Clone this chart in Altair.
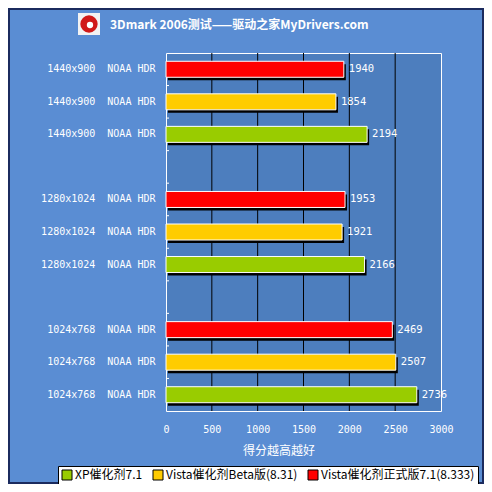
import json
import altair as alt
import pandas as pd

resolutions = ["1440x900", "1280x1024", "1024x768"]
mode = "NOAA HDR"
series_names = ["XP催化剂7.1", "Vista催化剂Beta版(8.31)", "Vista催化剂正式版7.1(8.333)"]
series_colors = ["#99CC00", "#FFCC00", "#FF0000"]
xp_scores = [2194, 2166, 2736]
beta_scores = [1854, 1921, 2507]
final_scores = [1940, 1953, 2469]
x_ticks = [0, 500, 1000, 1500, 2000, 2500, 3000]
grid_vals = [500, 1000, 1500, 2000, 2500]
title_text = "3Dmark 2006测试——驱动之家MyDrivers.com"
x_title = "得分越高越好"

order = [(series_names[2], final_scores), (series_names[1], beta_scores), (series_names[0], xp_scores)]
rows, labels = [], []
for gi, res in enumerate(resolutions):
    for si, (name, vals) in enumerate(order):
        rows.append({"slot": gi * 4 + si, "series": name, "score": vals[gi]})
        labels.append(f"{res}\u00a0\u00a0{mode}")
    if gi < len(resolutions) - 1:
        labels.append("")
df = pd.DataFrame(rows)
n_slots = len(labels)

W, H = 275, 358
PL, PT, PR, PB = 158, 45, 43, 73
STEP = H / n_slots

mono = "DejaVu Sans Mono"
cjk = "Noto Sans CJK SC"

y_scale = alt.Scale(domain=list(range(n_slots)), paddingInner=0, paddingOuter=0)
y_enc = alt.Y(
    "slot:O",
    scale=y_scale,
    axis=alt.Axis(title=None, labelExpr=json.dumps(labels) + "[datum.value]",
                  labelColor="white", labelFont=mono, labelFontSize=10,
                  ticks=False, domain=False, labelPadding=11),
)
x_enc = alt.X(
    "score:Q",
    scale=alt.Scale(domain=[0, 3000], nice=False),
    axis=alt.Axis(values=x_ticks, format="d", title=None, grid=False, ticks=False,
                  domain=False, labelColor="white", labelFont=mono, labelFontSize=10,
                  labelPadding=13, labelFlush=False),
)

base = alt.Chart(df)

grid = alt.Chart(pd.DataFrame({"g": grid_vals})).mark_rule(color="black", strokeWidth=1).encode(
    x=alt.X("g:Q")
)

inner_ticks = alt.Chart(pd.DataFrame({"slot": list(range(1, n_slots))})).mark_rule(
    color="white", strokeWidth=1, yOffset=-STEP / 2
).encode(y=alt.Y("slot:O"), x=alt.value(0), x2=alt.value(3))

shadow = base.mark_bar(color="black", size=16, xOffset=2, yOffset=3).encode(x=x_enc, y=y_enc)

bars = base.mark_bar(size=16, stroke="white", strokeWidth=1).encode(
    x=x_enc, y=y_enc,
    color=alt.Color(
        "series:N",
        scale=alt.Scale(domain=series_names, range=series_colors),
        legend=alt.Legend(
            orient="none", legendX=-108, legendY=413, direction="horizontal", title=None,
            fillColor="white", strokeColor="black", padding=3,
            symbolType="square", symbolSize=100, symbolStrokeColor="black",
            symbolStrokeWidth=1, labelFont=cjk, labelFontSize=12, labelColor="black",
            columnPadding=8, labelOffset=2,
        ),
    ),
)

values = base.mark_text(align="left", baseline="middle", dx=5, color="white",
                        font=mono, fontSize=10.5).encode(x=x_enc, y=y_enc, text="score:Q")

one = alt.Chart(pd.DataFrame({"t": [title_text], "xt": [x_title]}))

title = one.mark_text(align="left", baseline="middle", color="white", font=cjk,
                      fontSize=12, fontWeight="bold").encode(
    x=alt.value(-56), y=alt.value(-28), text="t:N")

xtitle = one.mark_text(align="center", baseline="middle", color="white", font=cjk,
                       fontSize=12).encode(
    x=alt.value(113), y=alt.value(398), text="xt:N")

icon_bg = one.mark_square(size=484, filled=True, color="#F2F2F2", opacity=1).encode(
    x=alt.value(-77), y=alt.value(-29))
icon_red = one.mark_circle(size=300, color="#D01818", opacity=1).encode(
    x=alt.value(-77), y=alt.value(-29))
icon_white = one.mark_circle(size=40, color="white", opacity=1).encode(
    x=alt.value(-76), y=alt.value(-28))

border = one.mark_rect(fillOpacity=0, stroke="#1B2B5E", strokeWidth=2).encode(
    x=alt.value(-PL + 1), x2=alt.value(W + PR - 1),
    y=alt.value(-PT + 1), y2=alt.value(H + PB - 1))

chart = alt.layer(
    grid, inner_ticks, shadow, bars, values, title, xtitle, icon_bg, icon_red, icon_white, border
).properties(
    width=W, height=H,
    autosize=alt.AutoSizeParams(type="none"),
    padding={"left": PL, "top": PT, "right": PR, "bottom": PB},
    background="#5A8DD3",
).configure_view(fill="#4D7EBE", stroke="white", strokeWidth=1)

chart.save("out.html", embed_options={"renderer": "svg", "actions": False})
